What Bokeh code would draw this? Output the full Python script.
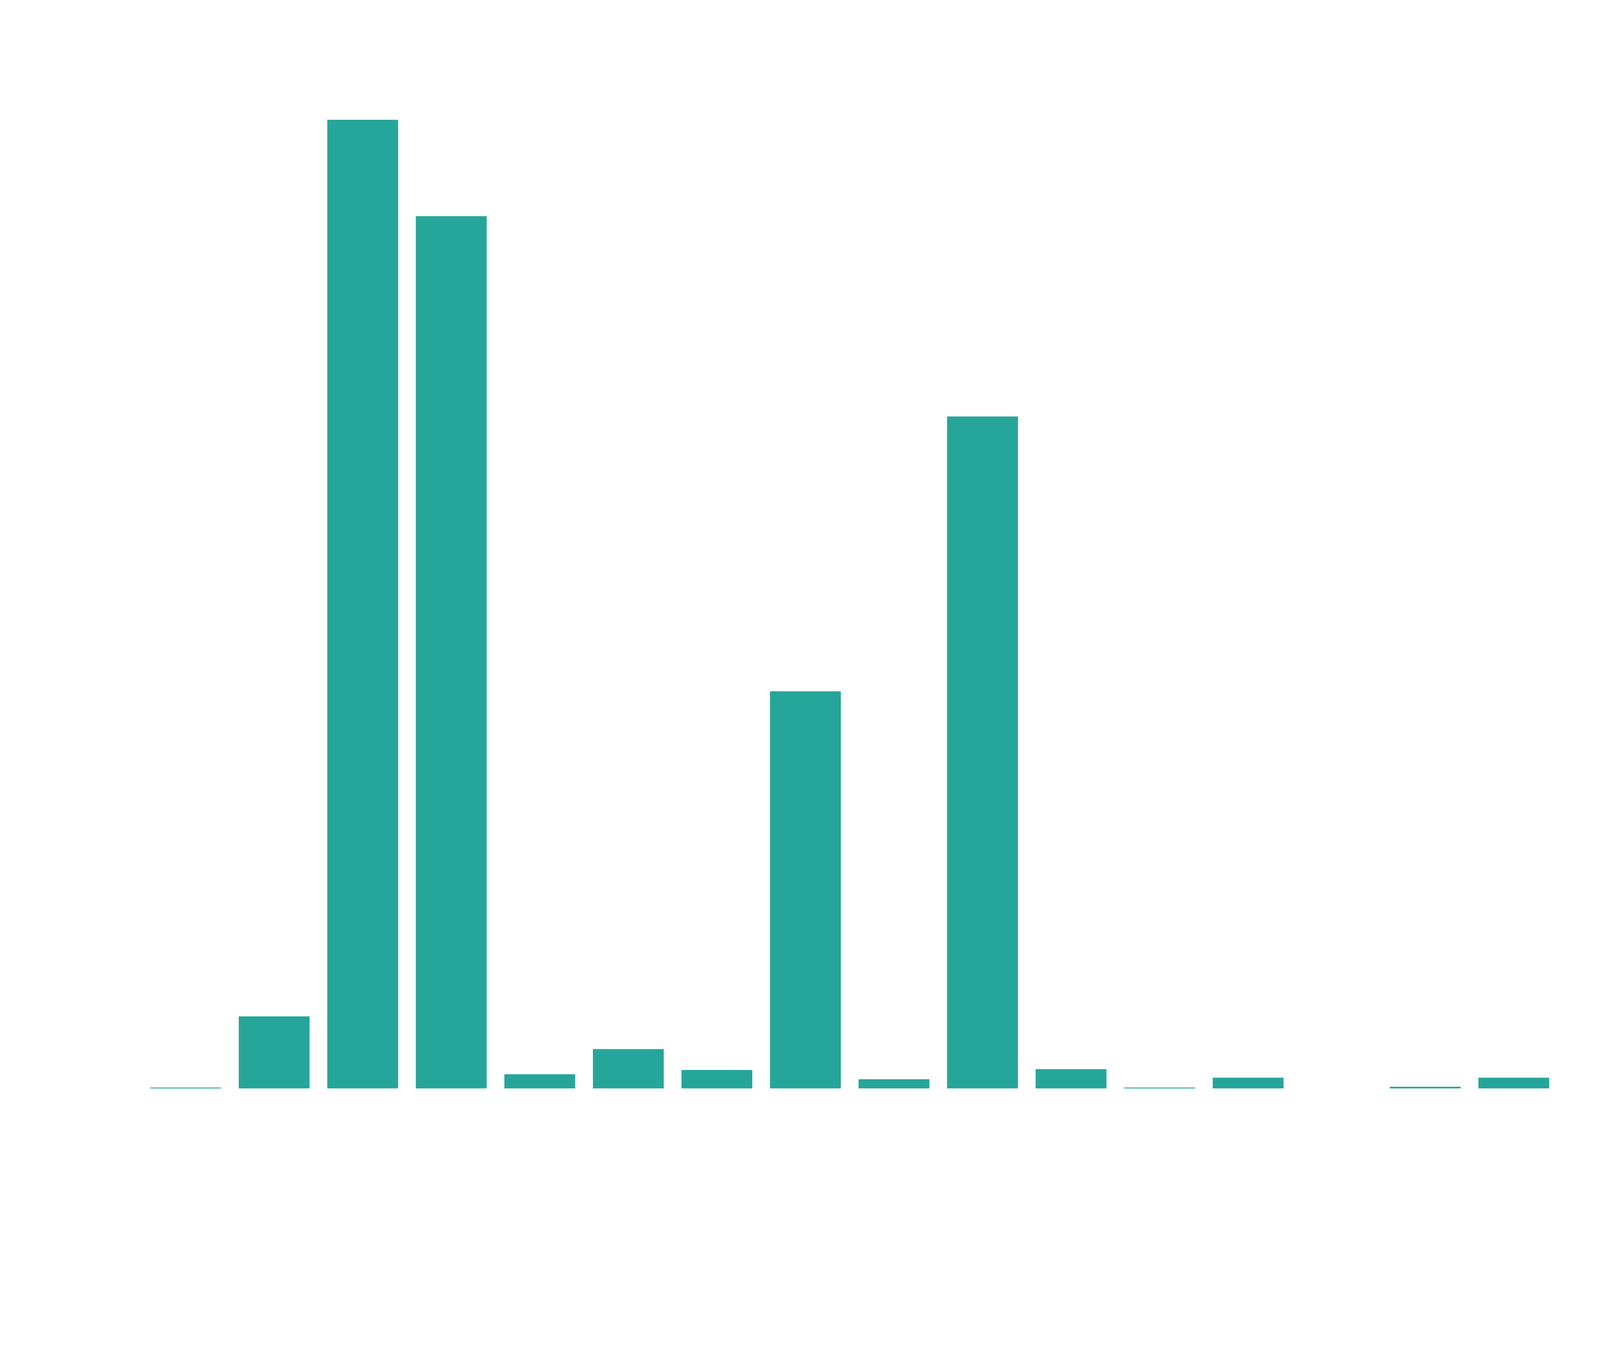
from bokeh.plotting import figure
from bokeh.models import ColumnDataSource, Range1d
from bokeh.embed import file_html
from bokeh.resources import INLINE

categories = [str(i) for i in range(1, 17)]
values = [1.0, 74.5, 1000.0, 900.4, 14.7, 40.7, 19.1, 410.0, 9.6, 693.7, 20.0, 1.0, 11.2, 0.0, 1.8, 11.2]
bar_color = "#26A69A"

# slot position of each category on a numeric axis (category i occupies [i, i+1])
positions = [i + 0.5 for i in range(len(categories))]

source = ColumnDataSource(data=dict(cat=categories, x=positions, val=values))

# x range extends beyond the 16 slots to leave the reference's side margins
p = figure(
    width=5272, height=3436,
    sizing_mode="stretch_width",
    x_range=Range1d(-1.594, 16.476),
    y_range=Range1d(0, 1000),
    output_backend="svg", toolbar_location=None,
    x_axis_location=None, y_axis_location=None,
    min_border_left=0, min_border_right=0,
    min_border_top=306, min_border_bottom=649,
)
p.vbar(x="x", top="val", bottom=0, width=0.8, source=source,
       fill_color=bar_color, line_color=None)
p.grid.visible = False
p.outline_line_color = None
p.background_fill_color = "white"
p.border_fill_color = "white"

open("out.html", "w").write(file_html(p, INLINE))
